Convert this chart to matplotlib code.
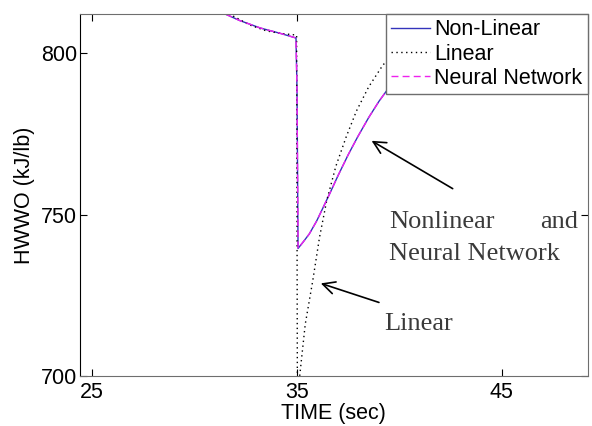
import matplotlib
matplotlib.use("Agg")
import matplotlib.pyplot as plt

# values (time in sec, HWWO in kJ/lb)
time_nl = [24.4, 28.0, 30.0, 31.0, 31.5, 32.2, 33.2, 34.2, 34.95, 35.0, 35.05,
           35.3, 35.6, 35.96, 36.3, 36.6, 37.0, 37.5, 37.96, 38.5, 39.0, 39.4,
           40.0, 41.0, 42.0, 44.0, 46.0, 49.2]
hwwo_nl = [845, 830, 821, 815, 812, 810, 807.7, 806, 804.6, 788.5, 739.5,
           741.5, 744, 748, 752.5, 756.5, 762, 768.5, 774, 780, 785, 788.5,
           793, 799, 803, 806, 807.5, 808]

time_nn = list(time_nl)
hwwo_nn = [845, 830, 821, 815, 812, 810, 807.7, 806, 804.6, 788.5, 739.5,
           741.5, 744, 748, 752.5, 756.5, 762, 768.5, 774, 780, 785, 788.5,
           793, 799, 803, 806, 807.5, 808]

time_lin = [24.4, 28.0, 30.0, 31.0, 31.7, 32.7, 33.5, 34.2, 34.98, 35.02,
            35.13, 35.4, 35.77, 36.1, 36.45, 36.9, 37.4, 37.9, 38.5, 39.2,
            40.0, 41.0, 42.0, 44.0, 46.0, 49.2]
hwwo_lin = [850, 834, 824, 817, 812, 808.6, 806.8, 806, 805.5, 688,
            700, 716, 729.6, 743, 754.3, 765, 774, 782, 789.5, 796.3,
            801, 805, 807, 808.5, 809, 809]

plt.rcParams['font.family'] = ['Liberation Sans', 'DejaVu Sans']
fs = 15.5

fig = plt.figure(figsize=(5.92, 4.26), dpi=100)
ax = fig.add_axes([0.135, 0.117, 0.858, 0.85])

ax.plot(time_nl, hwwo_nl, color='#3333bb', lw=1.0, label='Non-Linear')
ax.plot(time_lin, hwwo_lin, color='black', lw=1.0, ls=(0, (1, 2.5)), label='Linear')
ax.plot(time_nn, hwwo_nn, color='#ee22ee', lw=1.0, ls=(0, (5, 3)), label='Neural Network')

ax.set_xlim(24.4, 49.2)
ax.set_ylim(700, 812)
ax.set_xticks([25, 35, 45])
ax.set_yticks([700, 750, 800])
ax.tick_params(direction='in', top=True, right=True, length=5, labelsize=fs, colors='black')
ax.tick_params(axis='x', pad=4)
ax.tick_params(axis='y', pad=2)
for side in ['top', 'right', 'bottom']:
    ax.spines[side].set_color('#6e6e6e')
ax.spines['left'].set_color('black')

ax.set_xlabel('TIME (sec)', fontsize=fs, labelpad=0)
ax.set_ylabel('HWWO (kJ/lb)', fontsize=fs, labelpad=4)

leg = ax.legend(loc='upper right', fontsize=fs, borderaxespad=0, borderpad=0.25,
                handlelength=1.8, handletextpad=0.2, labelspacing=0.15,
                fancybox=False, framealpha=1)
leg.get_frame().set_edgecolor('#6e6e6e')
leg.get_frame().set_linewidth(1.0)

serif = ['Liberation Serif', 'DejaVu Serif']
tc = '#3a3a3a'
sfs = 19
ax.text(0.608, 0.409, 'Nonlinear', transform=ax.transAxes, family=serif,
        fontsize=sfs, color=tc, ha='left', va='baseline')
ax.text(0.980, 0.409, 'and', transform=ax.transAxes, family=serif,
        fontsize=sfs, color=tc, ha='right', va='baseline')
ax.text(0.608, 0.320, 'Neural Network', transform=ax.transAxes, family=serif,
        fontsize=sfs, color=tc, ha='left', va='baseline')
ax.text(0.600, 0.127, 'Linear', transform=ax.transAxes, family=serif,
        fontsize=sfs, color=tc, ha='left', va='baseline')

arrow = dict(arrowstyle='->', color='black', lw=1.2, mutation_scale=22, shrinkA=0, shrinkB=0)
ax.annotate('', xy=(38.64, 772.8), xytext=(42.6, 758), arrowprops=arrow)
ax.annotate('', xy=(36.16, 728.7), xytext=(39.0, 722.8), arrowprops=arrow)

fig.savefig('out.png', dpi=100)
